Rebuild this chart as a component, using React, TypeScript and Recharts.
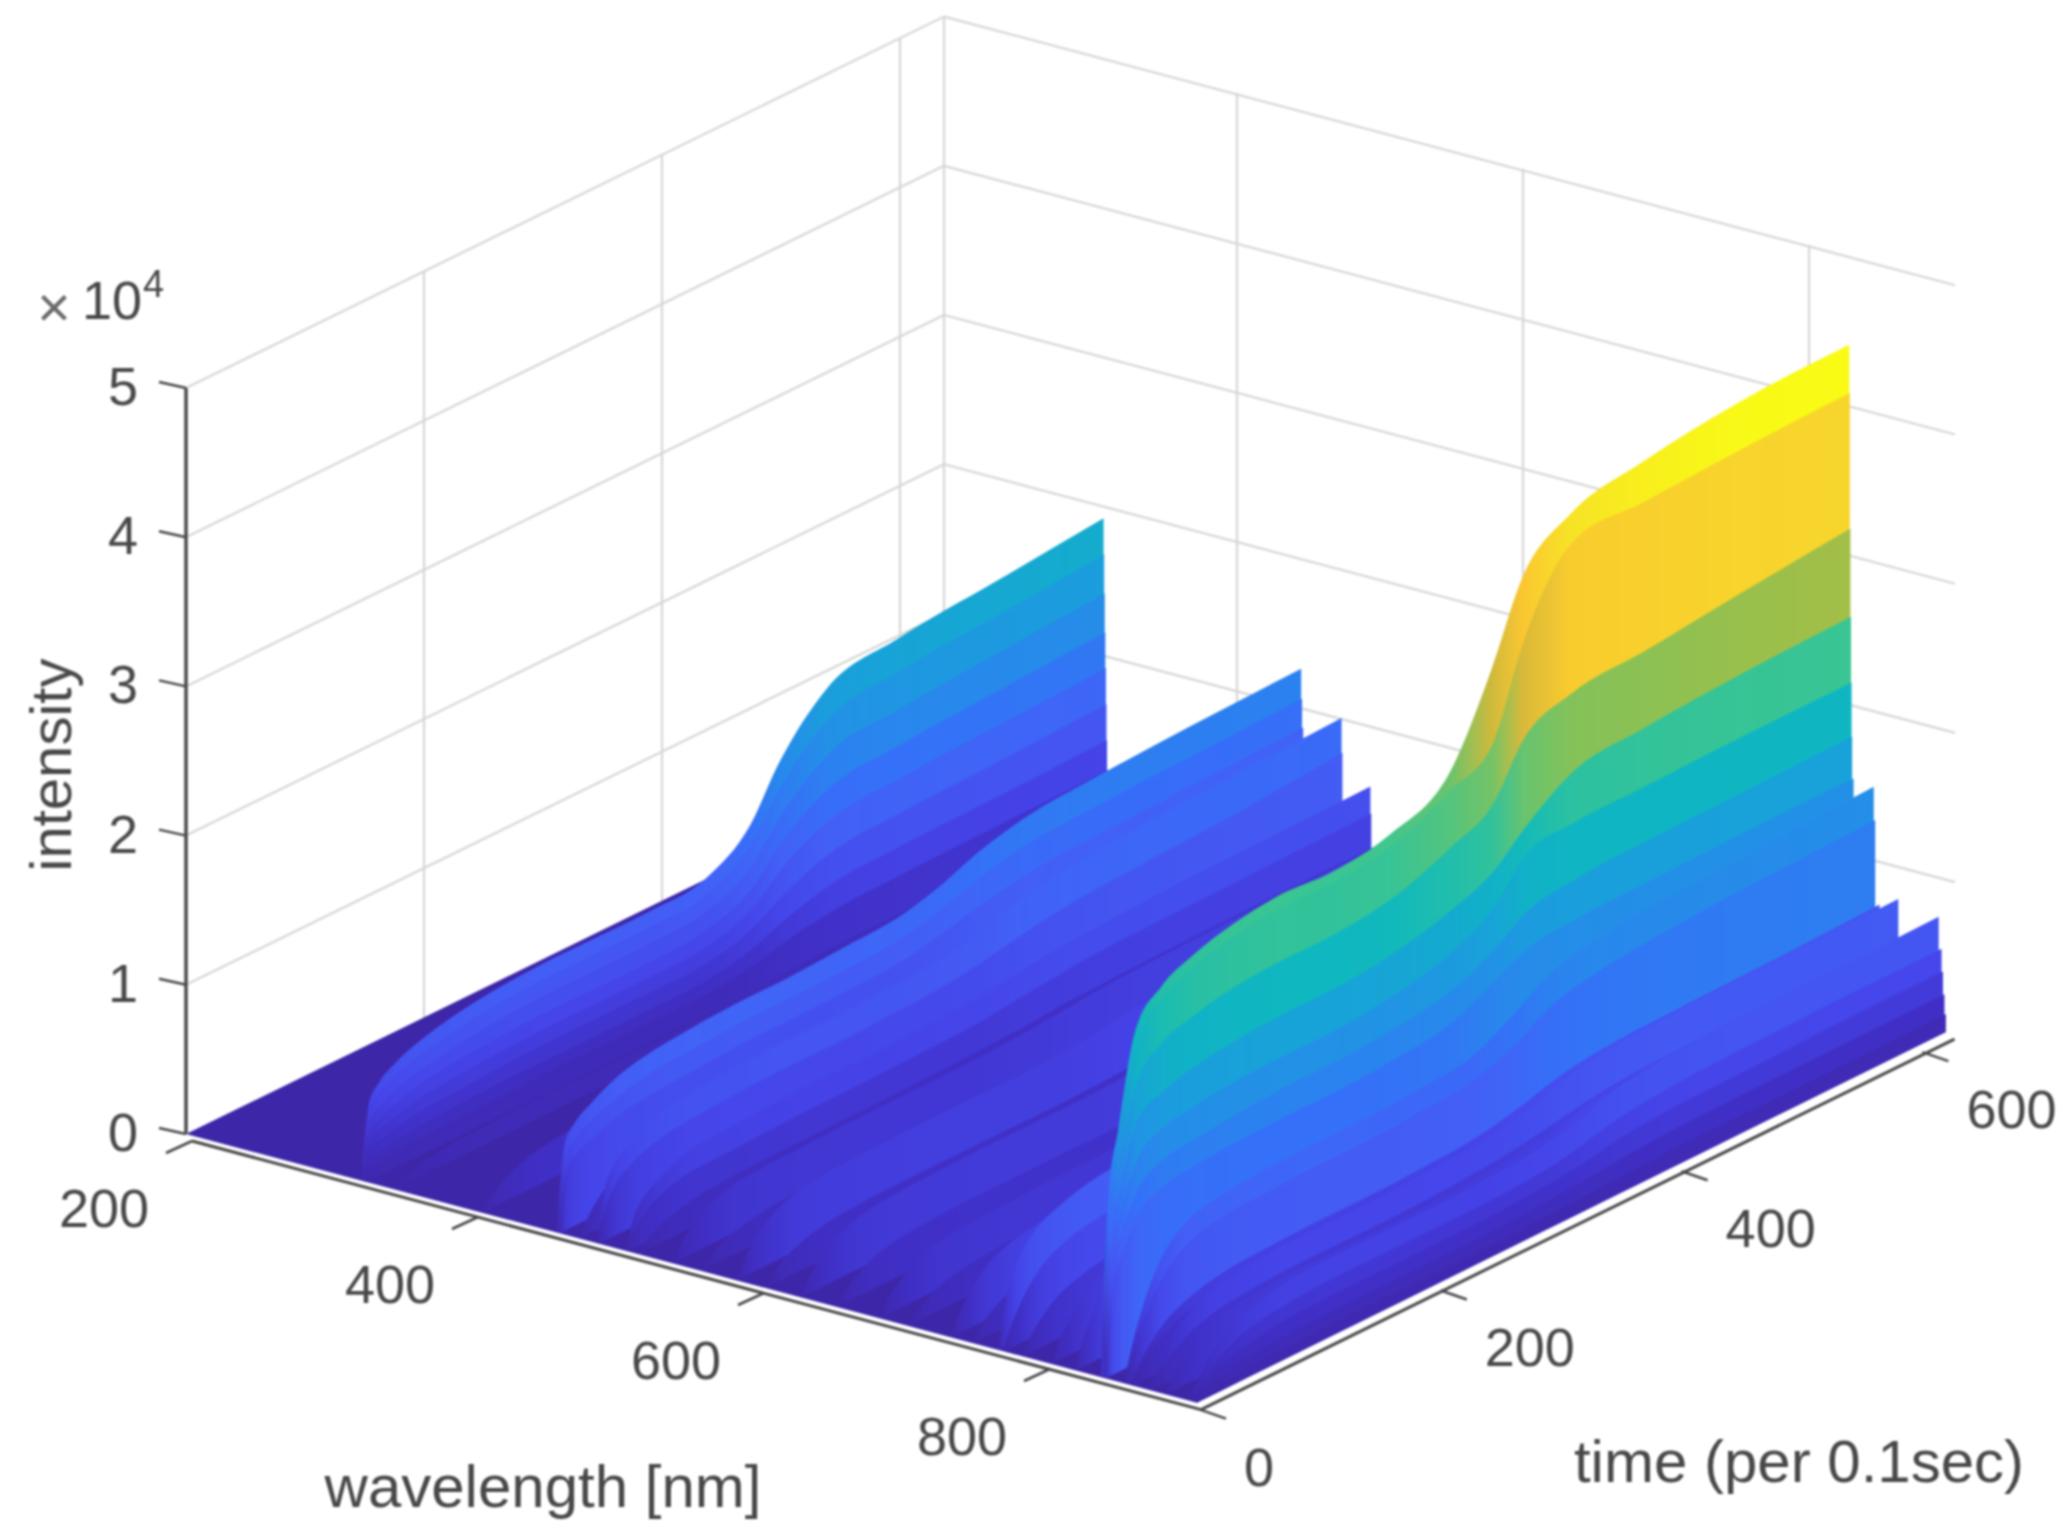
import { Area, ComposedChart, ReferenceDot, ReferenceLine, XAxis, YAxis } from "recharts"

const W = 2071
const H = 1539

// time samples (per 0.1 sec) shared by every ribbon
const timePoints = [0, 6, 14, 28, 50, 75, 110, 150, 190, 240, 290, 325, 350, 390, 450, 530, 622]

// wavelength of each ribbon, back (left) to front (right)
const wavelengths = [
  323, 323.4, 323.8, 324.2, 324.6, 325, 325.4, 326, 345, 407,
  460, 460.6, 461.4, 475, 488, 488.6, 508, 508.6, 516,
  540, 560, 585, 605, 630, 655, 685, 705, 735, 750, 768, 772, 785, 805, 822,
  840, 840.4, 840.8, 841.2, 841.6, 842, 843, 857, 858, 861, 862, 874, 875, 885, 902, 904, 905, 906, 907,
]

// intensity (x 10^4), one row per wavelength
const intensityRows = [
  [0.1, 0.5, 0.6, 0.68, 0.75, 0.8, 0.84, 0.86, 0.86, 0.86, 0.9, 1.1, 1.43, 1.77, 1.87, 1.93, 2.0],
  [0.09, 0.44, 0.53, 0.6, 0.66, 0.7, 0.74, 0.76, 0.76, 0.76, 0.79, 0.97, 1.26, 1.56, 1.65, 1.7, 1.76],
  [0.08, 0.38, 0.45, 0.51, 0.56, 0.6, 0.63, 0.65, 0.65, 0.65, 0.68, 0.83, 1.07, 1.33, 1.4, 1.45, 1.5],
  [0.07, 0.31, 0.37, 0.42, 0.47, 0.5, 0.52, 0.53, 0.53, 0.53, 0.56, 0.68, 0.89, 1.1, 1.16, 1.2, 1.24],
  [0.05, 0.25, 0.3, 0.34, 0.38, 0.4, 0.42, 0.43, 0.43, 0.43, 0.45, 0.55, 0.72, 0.89, 0.94, 0.97, 1.0],
  [0.04, 0.19, 0.23, 0.26, 0.29, 0.3, 0.32, 0.33, 0.33, 0.33, 0.34, 0.42, 0.54, 0.67, 0.71, 0.73, 0.76],
  [0.03, 0.13, 0.16, 0.18, 0.2, 0.21, 0.22, 0.22, 0.22, 0.22, 0.23, 0.29, 0.37, 0.46, 0.49, 0.5, 0.52],
  [0.02, 0.08, 0.1, 0.11, 0.12, 0.13, 0.13, 0.14, 0.14, 0.14, 0.14, 0.18, 0.23, 0.28, 0.3, 0.31, 0.32],
  [0.01, 0.03, 0.06, 0.09, 0.11, 0.12, 0.13, 0.13, 0.13, 0.13, 0.14, 0.16, 0.17, 0.18, 0.18, 0.18, 0.18],
  [0.01, 0.07, 0.12, 0.19, 0.24, 0.26, 0.27, 0.27, 0.27, 0.27, 0.28, 0.28, 0.3, 0.3, 0.3, 0.3, 0.3],
  [0.15, 0.58, 0.68, 0.76, 0.85, 0.9, 0.93, 0.95, 0.95, 0.97, 1.0, 1.08, 1.16, 1.24, 1.28, 1.31, 1.33],
  [0.13, 0.49, 0.58, 0.65, 0.72, 0.77, 0.79, 0.81, 0.81, 0.82, 0.85, 0.92, 0.99, 1.06, 1.09, 1.11, 1.13],
  [0.11, 0.41, 0.48, 0.53, 0.6, 0.63, 0.65, 0.67, 0.67, 0.68, 0.7, 0.76, 0.81, 0.87, 0.9, 0.92, 0.94],
  [0.02, 0.1, 0.19, 0.29, 0.37, 0.4, 0.42, 0.42, 0.42, 0.43, 0.45, 0.5, 0.54, 0.58, 0.6, 0.6, 0.62],
  [0.1, 0.35, 0.48, 0.57, 0.66, 0.7, 0.72, 0.74, 0.74, 0.75, 0.78, 0.84, 0.9, 0.96, 1.0, 1.04, 1.07],
  [0.06, 0.22, 0.34, 0.43, 0.5, 0.53, 0.55, 0.56, 0.56, 0.57, 0.59, 0.63, 0.67, 0.72, 0.75, 0.78, 0.84],
  [0.04, 0.2, 0.3, 0.38, 0.46, 0.48, 0.5, 0.51, 0.51, 0.52, 0.54, 0.57, 0.6, 0.62, 0.64, 0.65, 0.66],
  [0.03, 0.12, 0.2, 0.27, 0.32, 0.33, 0.34, 0.35, 0.35, 0.36, 0.37, 0.4, 0.42, 0.45, 0.46, 0.47, 0.48],
  [0.01, 0.05, 0.1, 0.15, 0.19, 0.21, 0.22, 0.22, 0.22, 0.23, 0.24, 0.25, 0.27, 0.28, 0.29, 0.3, 0.3],
  [0.01, 0.09, 0.16, 0.25, 0.32, 0.34, 0.35, 0.36, 0.36, 0.36, 0.38, 0.4, 0.42, 0.44, 0.45, 0.46, 0.46],
  [0.01, 0.05, 0.1, 0.15, 0.19, 0.21, 0.22, 0.22, 0.22, 0.22, 0.23, 0.25, 0.26, 0.27, 0.28, 0.28, 0.28],
  [0.02, 0.11, 0.2, 0.31, 0.39, 0.42, 0.43, 0.44, 0.44, 0.44, 0.46, 0.5, 0.52, 0.54, 0.55, 0.55, 0.56],
  [0.01, 0.06, 0.12, 0.18, 0.23, 0.25, 0.26, 0.26, 0.26, 0.26, 0.27, 0.29, 0.3, 0.32, 0.33, 0.33, 0.33],
  [0.02, 0.1, 0.18, 0.28, 0.35, 0.38, 0.39, 0.4, 0.4, 0.4, 0.42, 0.45, 0.48, 0.5, 0.5, 0.5, 0.5],
  [0.01, 0.07, 0.13, 0.2, 0.25, 0.27, 0.28, 0.28, 0.28, 0.28, 0.29, 0.32, 0.34, 0.36, 0.36, 0.36, 0.36],
  [0.01, 0.09, 0.16, 0.25, 0.32, 0.34, 0.35, 0.36, 0.36, 0.36, 0.38, 0.4, 0.42, 0.44, 0.45, 0.45, 0.45],
  [0.01, 0.06, 0.11, 0.17, 0.21, 0.23, 0.24, 0.24, 0.24, 0.24, 0.25, 0.27, 0.28, 0.3, 0.3, 0.3, 0.3],
  [0.02, 0.12, 0.22, 0.35, 0.44, 0.48, 0.49, 0.5, 0.5, 0.5, 0.52, 0.56, 0.6, 0.62, 0.63, 0.63, 0.63],
  [0.01, 0.08, 0.14, 0.21, 0.26, 0.29, 0.3, 0.3, 0.3, 0.3, 0.31, 0.34, 0.36, 0.38, 0.38, 0.38, 0.38],
  [0.04, 0.3, 0.5, 0.66, 0.76, 0.82, 0.85, 0.85, 0.85, 0.85, 0.9, 0.98, 1.05, 1.1, 1.1, 1.1, 1.1],
  [0.03, 0.15, 0.27, 0.42, 0.53, 0.58, 0.6, 0.6, 0.6, 0.6, 0.63, 0.68, 0.72, 0.76, 0.76, 0.76, 0.76],
  [0.02, 0.1, 0.18, 0.28, 0.35, 0.39, 0.4, 0.4, 0.4, 0.4, 0.42, 0.46, 0.48, 0.5, 0.5, 0.5, 0.5],
  [0.02, 0.12, 0.22, 0.35, 0.44, 0.48, 0.5, 0.5, 0.5, 0.5, 0.53, 0.58, 0.62, 0.64, 0.64, 0.64, 0.64],
  [0.03, 0.18, 0.32, 0.49, 0.62, 0.68, 0.7, 0.7, 0.7, 0.72, 0.76, 0.84, 0.9, 0.94, 0.94, 0.94, 0.94],
  [0.3, 1.2, 1.6, 2.2, 2.42, 2.52, 2.6, 2.64, 2.62, 2.68, 2.9, 3.46, 3.96, 4.23, 4.34, 4.42, 4.44],
  [0.28, 1.1, 1.5, 2.1, 2.34, 2.44, 2.52, 2.56, 2.55, 2.6, 2.78, 2.95, 3.52, 4.03, 4.07, 4.1, 4.12],
  [0.25, 1.0, 1.35, 1.85, 2.05, 2.12, 2.18, 2.2, 2.2, 2.25, 2.4, 2.55, 2.88, 3.03, 3.07, 3.14, 3.21],
  [0.22, 0.9, 1.2, 1.6, 1.72, 1.78, 1.82, 1.84, 1.84, 1.88, 1.98, 2.1, 2.28, 2.5, 2.56, 2.6, 2.62],
  [0.2, 0.8, 1.05, 1.35, 1.48, 1.52, 1.55, 1.56, 1.56, 1.6, 1.7, 1.86, 2.1, 2.16, 2.17, 2.18, 2.18],
  [0.18, 0.7, 0.9, 1.15, 1.27, 1.3, 1.33, 1.35, 1.35, 1.38, 1.45, 1.58, 1.72, 1.78, 1.8, 1.81, 1.82],
  [0.15, 0.6, 0.78, 1.0, 1.1, 1.13, 1.15, 1.16, 1.16, 1.18, 1.24, 1.38, 1.48, 1.52, 1.53, 1.54, 1.54],
  [0.06, 0.25, 0.45, 0.7, 0.88, 0.94, 0.97, 0.98, 0.98, 1.0, 1.05, 1.2, 1.33, 1.42, 1.46, 1.49, 1.52],
  [0.05, 0.2, 0.38, 0.58, 0.74, 0.8, 0.82, 0.83, 0.83, 0.85, 0.89, 1.0, 1.12, 1.2, 1.25, 1.28, 1.3],
  [0.03, 0.11, 0.2, 0.31, 0.4, 0.45, 0.47, 0.48, 0.48, 0.49, 0.52, 0.58, 0.64, 0.69, 0.71, 0.72, 0.74],
  [0.02, 0.09, 0.16, 0.25, 0.33, 0.37, 0.39, 0.39, 0.39, 0.4, 0.43, 0.48, 0.52, 0.56, 0.58, 0.59, 0.6],
  [0.03, 0.12, 0.23, 0.36, 0.46, 0.5, 0.53, 0.53, 0.53, 0.55, 0.58, 0.65, 0.72, 0.77, 0.79, 0.8, 0.81],
  [0.02, 0.08, 0.15, 0.24, 0.31, 0.34, 0.36, 0.36, 0.36, 0.37, 0.4, 0.44, 0.48, 0.52, 0.54, 0.55, 0.55],
  [0.02, 0.1, 0.18, 0.28, 0.35, 0.38, 0.4, 0.4, 0.4, 0.41, 0.44, 0.48, 0.54, 0.58, 0.6, 0.6, 0.62],
  [0.02, 0.11, 0.21, 0.33, 0.42, 0.47, 0.49, 0.49, 0.49, 0.5, 0.53, 0.6, 0.67, 0.72, 0.74, 0.75, 0.76],
  [0.02, 0.08, 0.15, 0.24, 0.31, 0.34, 0.36, 0.36, 0.36, 0.36, 0.38, 0.43, 0.48, 0.52, 0.54, 0.55, 0.55],
  [0.01, 0.06, 0.11, 0.17, 0.22, 0.25, 0.26, 0.26, 0.26, 0.26, 0.28, 0.31, 0.35, 0.38, 0.39, 0.4, 0.4],
  [0.01, 0.04, 0.07, 0.11, 0.14, 0.15, 0.16, 0.16, 0.16, 0.16, 0.18, 0.2, 0.22, 0.24, 0.25, 0.25, 0.25],
  [0.01, 0.02, 0.03, 0.05, 0.07, 0.07, 0.08, 0.08, 0.08, 0.08, 0.09, 0.1, 0.11, 0.12, 0.12, 0.12, 0.12],
]

const wavelengthTicks = [200, 400, 600, 800]
const timeTicks = [0, 200, 400, 600]
const intensityTicks = [0, 1, 2, 3, 4, 5]
const wallTimes = [200, 400, 600, 637]
const wallWavelengths = [400, 600, 800]

// parula, position 0..1 -> colour
const colorStops: [number, string][] = [
  [0, "#3e26a8"],
  [0.06, "#4030c8"],
  [0.12, "#4545ea"],
  [0.2, "#4360f6"],
  [0.26, "#3570f8"],
  [0.31, "#2a85ee"],
  [0.4, "#1a9fdc"],
  [0.5, "#0eb8bf"],
  [0.6, "#3ec68f"],
  [0.7, "#93c14e"],
  [0.75, "#b6bd3f"],
  [0.8, "#e0b838"],
  [0.84, "#fcb63b"],
  [0.9, "#fac82f"],
  [0.94, "#f6dc2a"],
  [1, "#f9fb15"],
]

const Z_MAX = 4.44
const L_MIN = 200
const L_MAX = 907
const T_END = 622
const T_WALL = 637
const Z_TOP = 5

// fixed view of the MATLAB axes, with the slight perspective of the original
function project(l: number, t: number, z: number) {
  const d = l - L_MIN
  const s = d / (L_MAX - L_MIN)
  return {
    x: 186 + 1.43 * d + (1.19 + 0.014 * s) * t,
    y: 1134 + 0.38 * d - (0.583 + 0.013 * s) * t - 149.2 * z,
  }
}

// back wall runs from the far corner, its lines sit a little right of the floor ticks
function wallPoint(l: number, z: number) {
  const corner = project(L_MIN, T_WALL, 0)
  const d = l - L_MIN
  return { x: corner.x + 1.43 * d, y: corner.y + 0.38 * d - 149.2 * z }
}

function hexToRgb(hex: string) {
  return [1, 3, 5].map((i) => parseInt(hex.slice(i, i + 2), 16))
}

function parula(z: number) {
  const v = Math.min(1, Math.max(0, z / Z_MAX))
  let i = 0
  while (i < colorStops.length - 2 && colorStops[i + 1][0] < v) i++
  const [p0, c0] = colorStops[i]
  const [p1, c1] = colorStops[i + 1]
  const f = (v - p0) / (p1 - p0)
  const a = hexToRgb(c0)
  const b = hexToRgb(c1)
  return `rgb(${a.map((n, k) => Math.round(n + (b[k] - n) * f)).join(",")})`
}

const ribbons = wavelengths.map((l, i) => ({
  id: `ribbon-${i}`,
  row: intensityRows[i],
  data: timePoints.map((t, j) => {
    const floor = project(l, t, 0)
    return { x: floor.x, band: [floor.y, project(l, t, intensityRows[i][j]).y] }
  }),
}))

type Pt = { x: number; y: number }

// the flat floor under all ribbons, as a top edge and a bottom edge over x
function floorData() {
  const a = project(L_MIN, 0, 0)
  const b = project(L_MIN, T_END, 0)
  const c = project(L_MAX, 0, 0)
  const d = project(L_MAX, T_END, 0)
  const lerp = (p: Pt, q: Pt, x: number) => p.y + ((q.y - p.y) * (x - p.x)) / (q.x - p.x)
  return [
    { x: a.x, band: [a.y, a.y] },
    { x: b.x, band: [lerp(a, c, b.x), b.y] },
    { x: c.x, band: [c.y, lerp(b, d, c.x)] },
    { x: d.x, band: [d.y, d.y] },
  ]
}

const GRID = "#d6d6d6"
const INK = "#484848"

// grid lines are Areas so they stay behind the ribbons
function gridLine(key: string, a: Pt, b: Pt) {
  return (
    <Area
      key={key}
      data={[a, b]}
      dataKey="y"
      type="linear"
      fill="none"
      stroke={GRID}
      strokeWidth={2.2}
      dot={false}
      activeDot={false}
      isAnimationActive={false}
    />
  )
}

function seg(key: string, a: Pt, b: Pt, color: string, width: number) {
  return <ReferenceLine key={key} segment={[a, b]} stroke={color} strokeWidth={width} ifOverflow="visible" />
}

function txt(
  key: string,
  p: Pt,
  label: string,
  size: number,
  anchor: "start" | "middle" | "end" = "middle",
  rotate = 0,
  color = INK,
) {
  return (
    <ReferenceDot
      key={key}
      x={p.x}
      y={p.y}
      r={0}
      ifOverflow="visible"
      shape={(d: any) => (
        <text
          x={d.cx}
          y={d.cy}
          fontFamily="'Liberation Sans', Arial, sans-serif"
          fontSize={size}
          fill={color}
          textAnchor={anchor}
          dominantBaseline="central"
          transform={rotate ? `rotate(${rotate} ${d.cx} ${d.cy})` : undefined}
        >
          {label}
        </text>
      )}
    />
  )
}

const shift = (p: Pt, dx: number, dy: number) => ({ x: p.x + dx, y: p.y + dy })

export default function App() {
  const gridLines = [
    ...intensityTicks.slice(1).flatMap((z) => [
      gridLine(`gl-${z}`, project(L_MIN, 0, z), project(L_MIN, T_WALL, z)),
      gridLine(`gr-${z}`, wallPoint(L_MIN, z), wallPoint(L_MAX, z)),
    ]),
    ...wallTimes.map((t) => gridLine(`gt-${t}`, project(L_MIN, t, 0), project(L_MIN, t, Z_TOP))),
    ...wallWavelengths.map((l) => gridLine(`gw-${l}`, shift(wallPoint(l, 0), 7, 0), shift(wallPoint(l, Z_TOP), 7, 0))),
  ]

  const axisLines = [
    seg("az", project(L_MIN, 0, 0), project(L_MIN, 0, Z_TOP), "#4a4a4a", 3.5),
    seg("al", shift(project(L_MIN, 0, 0), 6, 7), shift(project(L_MAX, 0, 0), 4, 7), INK, 3),
    seg("at", shift(project(L_MAX, 0, 0), 4, 7), shift(project(L_MAX, 625, 0), 5, 9), INK, 3),
    ...intensityTicks.map((z) => {
      const p = project(L_MIN, 0, z)
      return seg(`tz-${z}`, p, shift(p, -27, -6), INK, 2.5)
    }),
    ...wavelengthTicks.map((l) => {
      const p = shift(project(l, 0, 0), 6, 7)
      return seg(`tl-${l}`, p, shift(p, -26, 12), INK, 2.5)
    }),
    ...timeTicks.map((t) => {
      const p = shift(project(L_MAX, t, 0), 3, 7)
      return seg(`tt-${t}`, p, shift(p, 26, 9), INK, 2.5)
    }),
  ]

  const labels = [
    ...intensityTicks.map((z) => txt(`lz-${z}`, shift(project(L_MIN, 0, z), -48, -2), String(z), 54, "end")),
    ...wavelengthTicks.map((l) => txt(`ll-${l}`, shift(project(l, 0, 0), -82, 74), String(l), 54)),
    ...timeTicks.map((t) => txt(`lt-${t}`, shift(project(L_MAX, t, 0), 47, 64), String(t), 54, "start")),
    txt("xl", { x: 543, y: 1486 }, "wavelength [nm]", 60),
    txt("xt", { x: 1799, y: 1461 }, "time (per 0.1sec)", 60),
    txt("yl", { x: 50, y: 765 }, "intensity", 58, "middle", -90),
    txt("ex-x", { x: 54, y: 306 }, "×", 58, "middle", 0, "#6a6a6a"),
    txt("ex-10", { x: 82, y: 300 }, "10", 54, "start"),
    txt("ex-4", { x: 143, y: 284 }, "4", 38, "start"),
  ]

  return (
    <div style={{ position: "absolute", left: 0, top: 0, width: W, height: H, background: "#fff", filter: "blur(0.9px)" }}>
      <ComposedChart width={W} height={H} margin={{ top: 0, right: 0, bottom: 0, left: 0 }}>
        <defs>
          {ribbons.map((r) => (
            <linearGradient key={r.id} id={r.id} x1="0" y1="0" x2="1" y2="0">
              {timePoints.map((t, j) => (
                <stop key={t} offset={t / T_END} stopColor={parula(r.row[j])} />
              ))}
            </linearGradient>
          ))}
        </defs>
        <XAxis hide type="number" dataKey="x" domain={[0, W]} allowDataOverflow />
        <YAxis hide type="number" domain={[0, H]} reversed allowDataOverflow />
        {gridLines}
        <Area
          data={floorData()}
          dataKey="band"
          type="linear"
          fill="#3e26a8"
          fillOpacity={1}
          stroke="none"
          dot={false}
          activeDot={false}
          isAnimationActive={false}
        />
        {ribbons.map((r) => (
          <Area
            key={r.id}
            data={r.data}
            dataKey="band"
            type="monotone"
            fill={`url(#${r.id})`}
            fillOpacity={1}
            stroke="none"
            dot={false}
            activeDot={false}
            isAnimationActive={false}
          />
        ))}
        {axisLines}
        {labels}
      </ComposedChart>
    </div>
  )
}
